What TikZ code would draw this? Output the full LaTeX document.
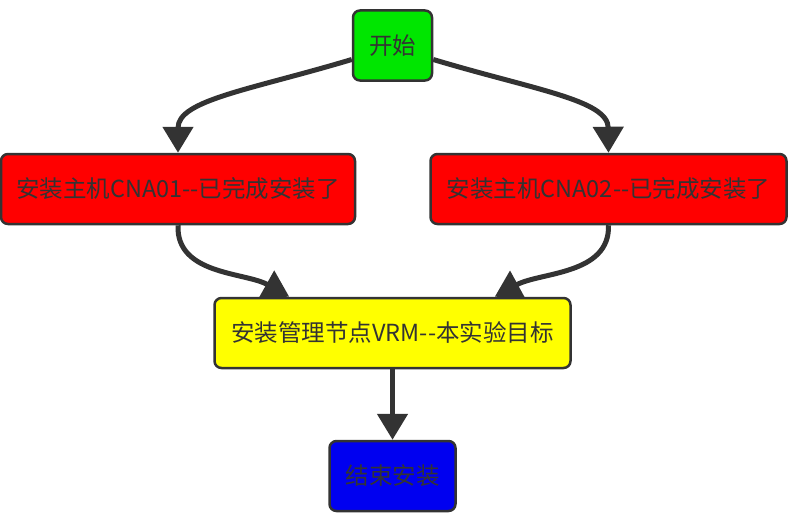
\documentclass[tikz,border=0pt]{standalone}
\usepackage{fontspec}
\setmainfont{Noto Sans CJK SC}
\usetikzlibrary{arrows.meta,calc}
\definecolor{edge}{HTML}{333333}
\tikzset{
  box/.style={draw=edge, line width=2.5pt, rounded corners=7pt, minimum height=70pt,
    inner sep=0pt, text=edge, font=\fontsize{23.5}{26}\selectfont},
  conn/.style={draw=edge, line width=5pt, -{Triangle[length=26pt,width=30pt]}}
}
\begin{document}
\begin{tikzpicture}[x=1pt,y=-1pt]
\useasboundingbox (0,0) rectangle (810,519);
\node[box, fill={rgb,255:red,0;green,230;blue,0}, minimum width=79pt] (s) at (392.5,45.5) {开始};
\node[box, fill={rgb,255:red,255;green,0;blue,0}, minimum width=354pt] (a) at (178,189) {安装主机CNA01-{}-已完成安装了};
\node[box, fill={rgb,255:red,255;green,0;blue,0}, minimum width=356pt] (b) at (608.5,189) {安装主机CNA02-{}-已完成安装了};
\node[box, fill={rgb,255:red,255;green,255;blue,0}, minimum width=356pt] (v) at (392.5,333) {安装管理节点VRM-{}-本实验目标};
\node[box, fill={rgb,255:red,0;green,0;blue,240}, minimum width=126pt] (e) at (392.5,476) {结束安装};
\draw[conn] ([yshift=-14pt]s.west) .. controls (250,90) and (178,100) .. (a.north);
\draw[conn] ([yshift=-14pt]s.east) .. controls (535,90) and (608,100) .. (b.north);
\draw[conn] (a.south) .. controls (176,275) and (245,272) .. ($(v.north west)+(76,0)$);
\draw[conn] (b.south) .. controls (610,275) and (540,272) .. ($(v.north east)+(-77,0)$);
\draw[conn] (v.south) -- (e.north);
\end{tikzpicture}
\end{document}
